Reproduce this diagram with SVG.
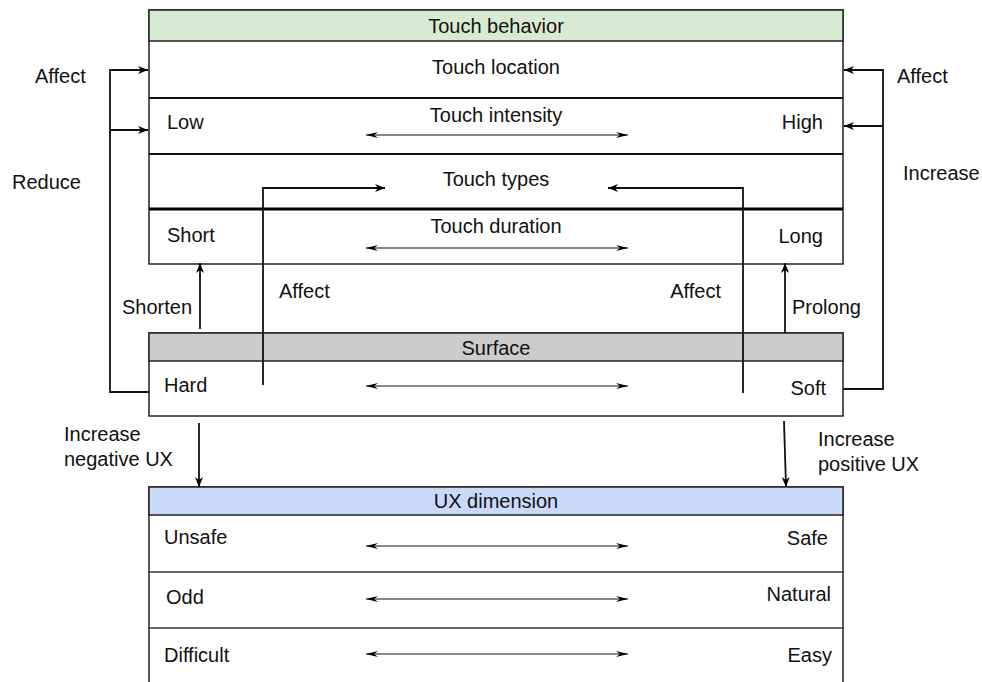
<svg xmlns="http://www.w3.org/2000/svg" width="982" height="682" viewBox="0 0 982 682">
  <defs>
    <marker id="head" viewBox="0 0 10 8" refX="10" refY="4" markerWidth="10" markerHeight="8" markerUnits="userSpaceOnUse" orient="auto">
      <path d="M0,0 L10,4 L0,8 L3,4 Z" fill="#000"/>
    </marker>
    <marker id="thin" viewBox="0 0 12 8" refX="12" refY="4" markerWidth="12" markerHeight="8" markerUnits="userSpaceOnUse" orient="auto-start-reverse">
      <path d="M0,1 L12,4 L0,7 L4,4 Z" fill="#000"/>
    </marker>
    <style>
      text { font-family: "Liberation Sans", Arial, sans-serif; font-size: 20px; fill: #111; }
      .c { text-anchor: middle; }
      .r { text-anchor: end; }
      .box { fill: #fff; stroke: #222; stroke-width: 1.5; }
      .sep { stroke: #111; stroke-width: 2; }
      .sepl { stroke: #333; stroke-width: 1.5; }
      .flow { fill: none; stroke: #111; stroke-width: 1.8; }
      .range { stroke: #111; stroke-width: 1.2; marker-start: url(#thin); marker-end: url(#thin); }
    </style>
  </defs>

  <rect width="982" height="682" fill="#fff"/>

  <!-- Touch behavior panel -->
  <g id="touch-behavior">
    <rect class="box" x="149" y="10" width="694" height="254"/>
    <rect x="149" y="10" width="694" height="31" fill="#d9ead3" stroke="#222" stroke-width="1.5"/>
    <line class="sep" x1="149" y1="98" x2="843" y2="98"/>
    <line class="sep" x1="149" y1="154" x2="843" y2="154"/>
    <line x1="149" y1="209" x2="843" y2="209" stroke="#000" stroke-width="3"/>
    <text class="c" x="496" y="33">Touch behavior</text>
    <text class="c" x="496" y="74">Touch location</text>
    <text class="c" x="496" y="122">Touch intensity</text>
    <text x="167" y="129">Low</text>
    <text class="r" x="823" y="129">High</text>
    <text class="c" x="496" y="186">Touch types</text>
    <text class="c" x="496" y="233">Touch duration</text>
    <text x="167" y="242">Short</text>
    <text class="r" x="823" y="243">Long</text>
  </g>

  <!-- Surface panel -->
  <g id="surface">
    <rect class="box" x="149" y="333" width="694" height="83"/>
    <rect x="149" y="333" width="694" height="28" fill="#cccccc" stroke="#222" stroke-width="1.5"/>
    <text class="c" x="496" y="355">Surface</text>
    <text x="164" y="392">Hard</text>
    <text class="r" x="826" y="395">Soft</text>
  </g>

  <!-- UX dimension panel -->
  <g id="ux-dimension">
    <rect class="box" x="149" y="487" width="694" height="200"/>
    <rect x="149" y="487" width="694" height="28" fill="#c9daf8" stroke="#222" stroke-width="1.5"/>
    <line class="sepl" x1="149" y1="572" x2="843" y2="572"/>
    <line class="sepl" x1="149" y1="628" x2="843" y2="628"/>
    <text class="c" x="496" y="508">UX dimension</text>
    <text x="164" y="544">Unsafe</text>
    <text class="r" x="828" y="545">Safe</text>
    <text x="166" y="604">Odd</text>
    <text class="r" x="831" y="601">Natural</text>
    <text x="164" y="662">Difficult</text>
    <text class="r" x="832" y="662">Easy</text>
  </g>

  <!-- Connectors -->
  <g id="connectors">
    <!-- scale ranges -->
    <line class="range" x1="366" y1="135" x2="628" y2="135"/>
    <line class="range" x1="366" y1="248" x2="628" y2="248"/>
    <line class="range" x1="366" y1="386" x2="628" y2="386"/>
    <line class="range" x1="366" y1="546" x2="628" y2="546"/>
    <line class="range" x1="366" y1="599" x2="628" y2="599"/>
    <line class="range" x1="366" y1="654" x2="628" y2="654"/>

    <!-- hard surface: affect location, reduce intensity -->
    <path class="flow" d="M149,392 H110 V70 H148" marker-end="url(#head)"/>
    <path class="flow" d="M110,130 H148" marker-end="url(#head)"/>
    <!-- soft surface: affect location, increase intensity -->
    <path class="flow" d="M843,389 H883 V70 H844" marker-end="url(#head)"/>
    <path class="flow" d="M883,126 H844" marker-end="url(#head)"/>

    <!-- surface affects touch types -->
    <path class="flow" d="M263,385 V188 H385" marker-end="url(#head)" stroke-width="1.5"/>
    <path class="flow" d="M743,393 V188 H608" marker-end="url(#head)" stroke-width="1.5"/>

    <!-- shorten / prolong duration -->
    <path class="flow" d="M200,329 V263" marker-end="url(#head)"/>
    <path class="flow" d="M785,333 V263" marker-end="url(#head)"/>

    <!-- surface to UX -->
    <path class="flow" d="M199,423 V487" marker-end="url(#head)"/>
    <path class="flow" d="M784,421 L786,487" marker-end="url(#head)"/>
  </g>

  <!-- Connector labels -->
  <g id="labels">
    <text x="35" y="83">Affect</text>
    <text x="12" y="189">Reduce</text>
    <text x="897" y="83">Affect</text>
    <text x="903" y="180">Increase</text>
    <text x="279" y="298">Affect</text>
    <text class="r" x="721" y="298">Affect</text>
    <text x="122" y="314">Shorten</text>
    <text x="792" y="314">Prolong</text>
    <text x="64" y="441">Increase</text>
    <text x="64" y="466">negative UX</text>
    <text x="818" y="446">Increase</text>
    <text x="818" y="471">positive UX</text>
  </g>
</svg>
